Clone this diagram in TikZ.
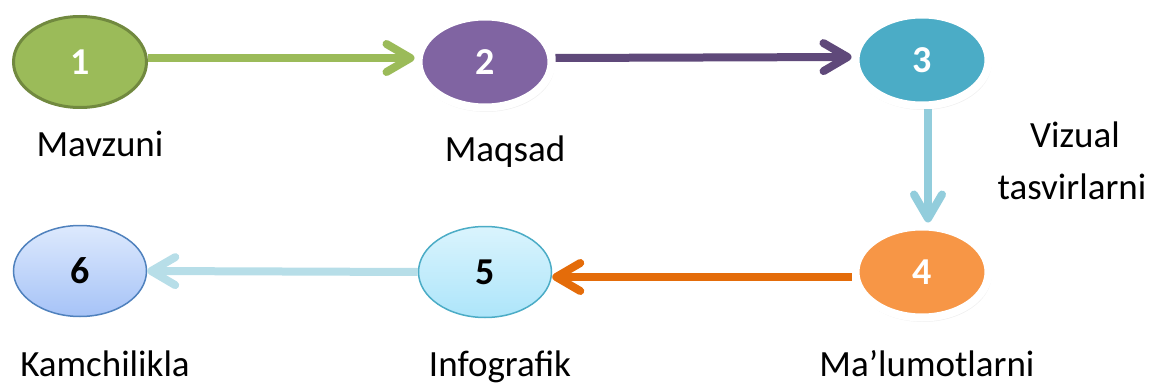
\documentclass[tikz,border=0pt]{standalone}
\usepackage{fontspec}
\setmainfont{Carlito}
\usetikzlibrary{arrows.meta, shapes.geometric, shadows}

\definecolor{leaf}{HTML}{9BBB59}
\definecolor{leafdark}{HTML}{71893F}
\definecolor{plum}{HTML}{8064A2}
\definecolor{plumdark}{HTML}{5F497A}
\definecolor{sea}{HTML}{4BACC6}
\definecolor{seapale}{HTML}{92CDDC}
\definecolor{ice}{HTML}{B7DEE8}
\definecolor{peach}{HTML}{F79646}
\definecolor{rust}{HTML}{E46C0A}
\definecolor{sky}{HTML}{4F81BD}
\definecolor{frosttop}{HTML}{DAF4FD}
\definecolor{frostbot}{HTML}{ADE5FA}
\definecolor{misttop}{HTML}{DDE9FD}
\definecolor{mistbot}{HTML}{A6C3F7}

\begin{document}
\begin{tikzpicture}[
            x = 1pt, y = -1pt, % one unit per pixel of the reference
            > = {Straight Barb[length=24pt, width=28pt, round]}, % open arrow head
            semithick % line style
        ]
        \tikzstyle{bubble}=[
            ellipse,
            minimum width = 133pt,
            minimum height = 91pt,
            inner sep = 0pt,
            text = white,
            font = \fontsize{38}{44}\selectfont\bfseries
        ]
        \tikzstyle{ringed}=[
            bubble,
            draw = white,
            line width = 8pt,
            drop shadow = {opacity = 0.12, shadow scale = 1.03, shadow xshift = 1pt, shadow yshift = -3pt}
        ]
        \tikzstyle{link}=[->, line width = 8pt]
        \tikzstyle{caption}=[anchor = base, inner sep = 1pt, font = \fontsize{37}{44}\selectfont]

        \useasboundingbox (0,0) rectangle (1154,385);

        % top row
        \node[bubble, fill = leaf, draw = leafdark, line width = 3pt] (n1) at (80,62) {1};
        \node[ringed, fill = plum] (n2) at (485,62) {2};
        \node[ringed, fill = sea] (n3) at (922,60) {3};

        % bottom row
        \node[ringed, fill = peach] (n4) at (922,272) {4};
        \node[bubble, text = black, top color = frosttop, bottom color = frostbot,
              draw = sea, line width = 1.5pt] (n5) at (485,272) {5};
        \node[bubble, text = black, top color = misttop, bottom color = mistbot,
              draw = sky, line width = 1.5pt] (n6) at (80,271) {6};

        % captions
        \node[caption] (c1) at (100,157) {Mavzuni};
        \node[caption] (c2) at (505,161) {Maqsad};
        \node[caption] (c3a) at (1075,147) {Vizual};
        \node[caption] (c3b) at (1072,200) {tasvirlarni};
        \node[caption] (c4) at (927,376) {Ma’lumotlarni};
        \node[caption] (c5) at (500,376) {Infografik};
        \node[caption] (c6) at (105,376) {Kamchilikla};

        \draw[link, leaf] ([yshift=4pt]n1.east) -- ([yshift=4pt]n2.west);
        \draw[link, plumdark] ([yshift=4pt]n2.east) -- ([yshift=3pt]n3.west);
        \draw[link, seapale] ([xshift=6pt]n3.south) -- ([xshift=6pt]n4.north);
        \draw[link, rust] ([yshift=-5pt]n4.west) -- ([yshift=-5pt]n5.east);
        \draw[link, ice] (n5.west) -- (n6.east);
    \end{tikzpicture}
\end{document}
